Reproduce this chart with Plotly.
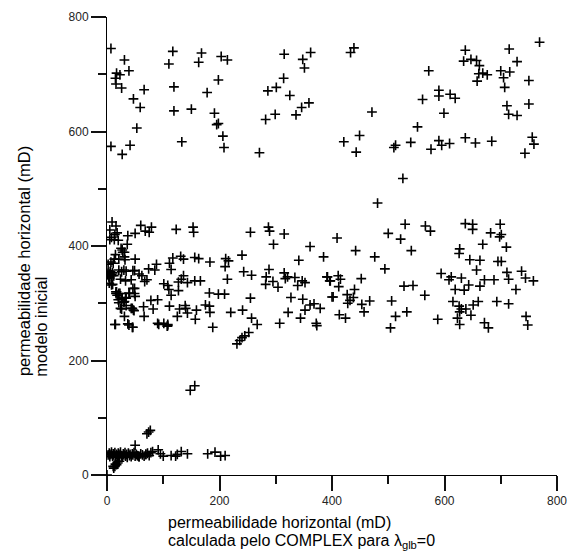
import plotly.graph_objects as go

# Upper band (model values ~ 470-760)
upper_x = [7, 31, 39, 17, 23, 15, 16, 26, 66, 47, 59, 53, 7, 41, 27, 117, 110, 119, 119, 133,
           168, 163, 150, 178, 198, 203, 214, 191, 195, 198, 206, 208, 271, 282, 286, 301, 314,
           325, 299, 315, 336, 346, 359, 348, 351, 362,
           433, 439, 421, 443, 449, 471, 510, 513, 540, 552, 561, 572, 576, 590, 590, 590, 595,
           599, 610, 619, 609, 637, 634, 647, 657, 662, 661, 668, 676, 658, 637, 655, 684, 715,
           729, 700, 716, 705, 707, 711, 714, 729, 750, 750, 769, 756, 759, 743, 526, 481]
upper_y = [745, 725, 706, 702, 699, 693, 683, 676, 673, 657, 642, 606, 574, 576, 560, 740, 718, 678, 636, 582,
           737, 721, 639, 668, 690, 731, 725, 632, 612, 614, 592, 572, 563, 621, 671, 677, 693,
           663, 630, 735, 629, 642, 650, 726, 711, 738,
           738, 746, 582, 564, 593, 634, 572, 576, 581, 608, 656, 706, 569, 672, 662, 584, 576,
           632, 665, 658, 579, 742, 723, 726, 724, 715, 701, 702, 699, 688, 589, 580, 583, 744,
           722, 706, 704, 694, 677, 645, 630, 628, 648, 689, 756, 590, 578, 562, 518, 475]

# Middle band (model values ~ 225-445)
middle_x = [9, 16, 5, 18, 14, 8, 13, 5, 37, 50, 60, 68, 75, 79, 123, 153, 154, 36, 25, 31,
            15, 13, 21, 32, 50, 7, 2, 11, 21, 30, 26, 5, 2, 11, 49, 57, 62, 74, 85, 88,
            111, 114, 117, 131, 136, 156, 163, 183, 211, 216, 210, 240, 243, 257, 5, 8, 24, 33, 43, 49,
            17, 16, 23, 39, 34, 50, 27, 31, 21, 71, 67, 101, 108, 110, 127, 132, 136, 143, 156, 166,
            127, 114, 182, 198, 209, 214, 255, 282, 288, 283, 295, 304, 315, 317, 321, 334, 347, 352,
            339, 341, 361, 385, 392, 397, 400, 287, 289, 255, 315, 296, 20, 26, 34, 45, 48, 31,
            15, 37, 45, 65, 66, 78, 82, 90, 111, 125, 139, 140, 143, 129, 159, 157, 175, 182,
            183, 188, 220, 241, 257, 267, 307, 322, 327, 344, 348, 352, 361, 368, 379, 372, 373,
            90, 101, 108, 108, 0, 6, 8, 4, 34, 46, 20, 27, 28, 31, 2, 4, 6, 8, 10, 3, 12,
            10, 16, 21, 18, 26, 33, 30, 43, 47, 24, 14, 39, 46, 46, 49, 40, 92, 107,
            409, 442, 476, 494, 500, 522, 530, 541, 566, 575, 637, 650, 650, 699, 682, 701, 698, 668,
            710, 627, 626, 645, 663, 695, 701, 657, 711, 737, 744, 758, 714, 688, 671, 663, 643, 635,
            619, 630, 608, 612, 594, 727, 615, 626, 630, 638, 627, 651, 660, 693, 714, 647, 623, 627,
            671, 678, 745, 748, 391, 396, 411, 415, 412, 452, 440, 427, 438, 432, 428, 402, 453, 467,
            457, 413, 424, 506, 528, 544, 565, 513, 533, 504, 588,
            231, 236, 240, 245, 252]
middle_y = [442, 435, 428, 423, 420, 415, 411, 411, 418, 422, 436, 426, 424, 433, 429, 433, 424, 403, 396, 389,
            385, 377, 377, 376, 377, 372, 368, 370, 358, 358, 355, 351, 349, 349, 357, 351, 348, 360, 358, 368,
            370, 359, 379, 382, 377, 380, 378, 372, 378, 374, 364, 384, 355, 349, 344, 332, 342, 339, 341, 326,
            320, 317, 317, 318, 309, 312, 309, 303, 301, 341, 338, 334, 331, 324, 337, 342, 348, 336, 339, 339,
            322, 314, 318, 316, 316, 342, 309, 333, 359, 346, 338, 328, 353, 343, 346, 345, 339, 336,
            331, 375, 399, 381, 346, 339, 311, 433, 426, 424, 421, 403, 306, 290, 296, 291, 287, 277,
            263, 264, 258, 294, 277, 305, 290, 306, 295, 277, 296, 291, 283, 290, 288, 272, 297, 295,
            284, 258, 284, 288, 274, 263, 265, 284, 310, 274, 307, 288, 297, 299, 291, 265, 261,
            265, 265, 261, 263, 351, 355, 348, 335, 356, 357, 410, 393, 389, 381, 352, 349, 355, 350, 353, 346, 348,
            333, 320, 317, 314, 307, 310, 302, 291, 288, 291, 263, 262, 258, 326, 317, 317, 263, 260,
            414, 392, 381, 360, 422, 412, 438, 392, 435, 426, 439, 438, 429, 438, 423, 420, 416, 403,
            398, 395, 387, 376, 375, 373, 373, 358, 354, 356, 344, 339, 342, 341, 341, 330, 332, 323,
            324, 344, 341, 346, 352, 324, 303, 295, 290, 290, 285, 297, 303, 303, 299, 279, 274, 263,
            266, 257, 277, 262, 346, 339, 348, 342, 329, 343, 324, 315, 310, 305, 300, 311, 298, 304,
            285, 280, 274, 304, 330, 331, 314, 277, 285, 257, 272,
            229, 235, 240, 243, 249]

# Lower band (model values ~ 0-160)
lower_x = [0, 11, 15, 20, 12, 14, 17, 19, 22,
           2, 4, 5, 7, 8, 10, 11, 12, 14, 15, 17, 18, 20, 21, 23, 24, 26, 27, 29, 30, 32, 33, 35, 36,
           38, 40, 41, 43, 45, 46, 48, 50, 52, 54, 57, 60, 63, 66, 69, 72, 75,
           50, 56, 81, 91, 95, 100, 114, 122, 125, 132, 143, 179, 192, 202, 210, 69, 78, 57,
           71, 74, 77, 148, 156]
lower_y = [0, 15, 19, 24, 12, 15, 18, 21, 24,
           35, 38, 32, 36, 40, 33, 37, 35, 39, 31, 36, 34, 38, 32, 36, 40, 34, 31, 37, 35, 39, 33, 36, 31,
           38, 34, 36, 32, 37, 35, 39, 33, 36, 34, 32, 37, 35, 33, 36, 38, 34,
           52, 33, 41, 44, 37, 33, 34, 33, 36, 41, 37, 37, 40, 33, 34, 36, 39, 32,
           72, 75, 78, 148, 156]

axis_max = 800
major_step = 200
minor_step = 100

all_x = upper_x + middle_x + lower_x
all_y = upper_y + middle_y + lower_y

FONT = "Liberation Sans, Arial"

fig = go.Figure()
fig.add_trace(go.Scatter(
    x=all_x, y=all_y, mode="markers",
    marker=dict(symbol="cross-thin", size=7, color="black",
                line=dict(color="black", width=1.6)),
    showlegend=False, hoverinfo="skip",
))

fig.update_layout(
    template="simple_white",
    width=577, height=556,
    margin=dict(l=107, r=10, t=16, b=81),
    font=dict(family=FONT),
)
for upd in (fig.update_xaxes, fig.update_yaxes):
    upd(range=[0, axis_max], dtick=major_step,
        showline=True, linecolor="black",
        ticks="outside", ticklen=15, tickwidth=2, tickcolor="#111111",
        ticklabeloverflow="allow",
        tickfont=dict(size=12),
        minor=dict(ticks="outside", ticklen=8, tickwidth=2, tickcolor="#111111",
                   dtick=minor_step))

def ann(text, x, y, size, angle=0, xanchor="left", yanchor="middle"):
    fig.add_annotation(xref="paper", yref="paper", x=x, y=y, text=text,
                       xanchor=xanchor, yanchor=yanchor, showarrow=False,
                       textangle=angle, font=dict(size=size, family=FONT, color="black"))

px_x = lambda p: (p - 107) / 460
px_y = lambda p: (475 - p) / 459

# x axis title (two left-aligned lines)
ann("permeabilidade horizontal (mD)", px_x(167), px_y(523), 16)
ann("calculada pelo COMPLEX para λ<sub>glb</sub>=0", px_x(167), px_y(542), 16)
# y axis title (two rotated lines, starting at the same height)
ann("permeabilidade horizontal (mD)", px_x(22), px_y(378), 16.5, angle=-90,
    xanchor="center", yanchor="bottom")
ann("modelo inicial", px_x(40), px_y(378), 16.5, angle=-90,
    xanchor="center", yanchor="bottom")

fig.write_html("out.html", post_script="document.body.style.margin='0';",
               config={"displayModeBar": False})
